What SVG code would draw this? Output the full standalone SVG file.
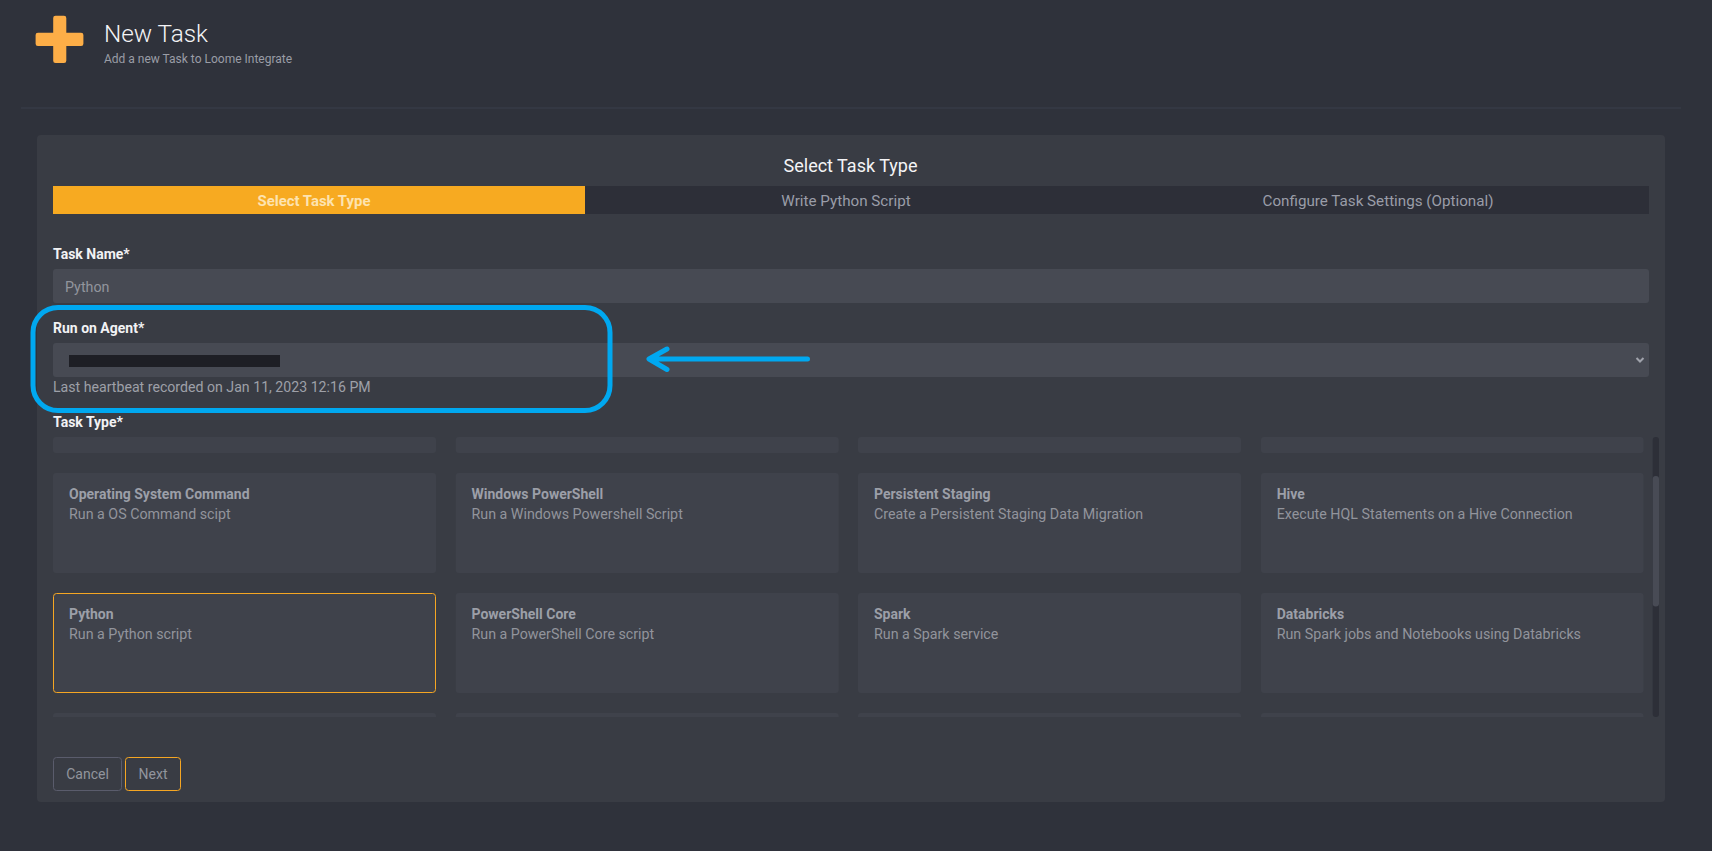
<svg xmlns="http://www.w3.org/2000/svg" width="1712" height="851" viewBox="0 0 1712 851">
<style>
text{font-family:Roboto,"Liberation Sans",sans-serif;font-size:14px}
.card{fill:#3f424b}
.ct{font-weight:700;fill:#9c9fa8}
.cd{fill:#92949c;font-size:14.250px}
.lbl{font-weight:700;fill:#f2f2f4}
.field{fill:#474a53}
.step{fill:#9a9da8;text-anchor:middle;font-size:15.200px}
.blue{fill:none;stroke:#00a8f0;stroke-linecap:round;stroke-linejoin:round}
</style>
<rect width="1712" height="851" fill="#2f323b"/>
<g id="header">
<path d="M55.500 15.700h8.500a2.300 2.300 0 0 1 2.300 2.300v14.700h14.800a2.300 2.300 0 0 1 2.300 2.300v8.700a2.300 2.300 0 0 1-2.300 2.300h-14.800v14.700a2.300 2.300 0 0 1-2.300 2.300h-8.500a2.300 2.300 0 0 1-2.300-2.300v-14.700h-15.300a2.300 2.300 0 0 1-2.300-2.300v-8.700a2.300 2.300 0 0 1 2.300-2.300h15.300v-14.700a2.300 2.300 0 0 1 2.300-2.300z" fill="#fdae47"/>
<text x="104" y="42" font-weight="300" fill="#f4f4f6" style="font-size:24.300px">New Task</text>
<text x="104" y="63" fill="#9a9da6" style="font-size:12px">Add a new Task to Loome Integrate</text>
<rect x="21" y="107.500" width="1660" height="1" fill="#3b3e4c"/>
</g>
<g id="panel">
<rect x="37" y="135" width="1628" height="667" rx="4" fill="#393c44"/>
<text x="850.500" y="171.500" text-anchor="middle" fill="#f4f4f6" style="font-size:18px">Select Task Type</text>
</g>
<g id="steps">
<rect x="53" y="186" width="1596" height="28" fill="#2d2f38"/>
<rect x="53" y="186" width="532" height="28" fill="#f7aa21"/>
<text x="314" y="206" text-anchor="middle" font-weight="700" fill="#fde3b0" style="font-size:14.900px">Select Task Type</text>
<text x="846" y="206" class="step">Write Python Script</text>
<text x="1378" y="206" class="step">Configure Task Settings (Optional)</text>
</g>
<g id="task-name">
<text x="53" y="258.500" class="lbl">Task Name*</text>
<rect x="53" y="269" width="1596" height="34" rx="3" class="field"/>
<text x="65" y="292" fill="#92959d" style="font-size:14.300px">Python</text>
</g>
<g id="run-on-agent">
<text x="53" y="332.500" class="lbl">Run on Agent*</text>
<rect x="53" y="343" width="1596" height="34" rx="3" class="field"/>
<rect x="69" y="355" width="211" height="12" fill="#1e1f25"/>
<path d="M1636.500 358l3.500 3.500 3.500-3.500" fill="none" stroke="#a0a3ac" stroke-width="2"/>
<text x="53" y="391.500" fill="#9ea0a8" style="font-size:14.150px">Last heartbeat recorded on Jan 11, 2023 12:16 PM</text>
</g>
<g id="task-type">
<text x="53" y="426.500" class="lbl">Task Type*</text>
<rect x="53" y="437" width="383" height="16" rx="3" class="card"/>
<rect x="455.700" y="437" width="383" height="16" rx="3" class="card"/>
<rect x="858" y="437" width="383" height="16" rx="3" class="card"/>
<rect x="1261" y="437" width="382.500" height="16" rx="3" class="card"/>
</g>
<g id="card-os">
<rect x="53" y="473" width="383" height="100" rx="3" class="card"/>
<text x="69" y="498.500" class="ct">Operating System Command</text>
<text x="69" y="518.500" class="cd">Run a OS Command scipt</text>
</g>
<g id="card-powershell">
<rect x="455.700" y="473" width="383" height="100" rx="3" class="card"/>
<text x="471.500" y="498.500" class="ct">Windows PowerShell</text>
<text x="471.500" y="518.500" class="cd">Run a Windows Powershell Script</text>
</g>
<g id="card-staging">
<rect x="858" y="473" width="383" height="100" rx="3" class="card"/>
<text x="874" y="498.500" class="ct">Persistent Staging</text>
<text x="874" y="518.500" class="cd">Create a Persistent Staging Data Migration</text>
</g>
<g id="card-hive">
<rect x="1261" y="473" width="382.500" height="100" rx="3" class="card"/>
<text x="1276.700" y="498.500" class="ct">Hive</text>
<text x="1276.700" y="518.500" class="cd">Execute HQL Statements on a Hive Connection</text>
</g>
<g id="card-python">
<rect x="53.500" y="593.500" width="382" height="99" rx="3" class="card" stroke="#f5a623" stroke-width="1"/>
<text x="69" y="618.500" class="ct">Python</text>
<text x="69" y="638.500" class="cd">Run a Python script</text>
</g>
<g id="card-pscore">
<rect x="455.700" y="593" width="383" height="100" rx="3" class="card"/>
<text x="471.500" y="618.500" class="ct">PowerShell Core</text>
<text x="471.500" y="638.500" class="cd">Run a PowerShell Core script</text>
</g>
<g id="card-spark">
<rect x="858" y="593" width="383" height="100" rx="3" class="card"/>
<text x="874" y="618.500" class="ct">Spark</text>
<text x="874" y="638.500" class="cd">Run a Spark service</text>
</g>
<g id="card-databricks">
<rect x="1261" y="593" width="382.500" height="100" rx="3" class="card"/>
<text x="1276.700" y="618.500" class="ct">Databricks</text>
<text x="1276.700" y="638.500" class="cd">Run Spark jobs and Notebooks using Databricks</text>
</g>
<g id="row-cut">
<path d="M53 717v-1a3 3 0 0 1 3-3h377a3 3 0 0 1 3 3v1zM455.700 717v-1a3 3 0 0 1 3-3h377a3 3 0 0 1 3 3v1zM858 717v-1a3 3 0 0 1 3-3h377a3 3 0 0 1 3 3v1zM1261 717v-1a3 3 0 0 1 3-3h376.500a3 3 0 0 1 3 3v1z" class="card"/>
</g>
<g id="scrollbar">
<rect x="1652.700" y="437" width="6.300" height="280" rx="3" fill="#2d2f38"/>
<rect x="1652.700" y="476" width="6.300" height="130.500" rx="3" fill="#484b55"/>
</g>
<g id="button-cancel">
<rect x="53.500" y="757.500" width="68" height="33" rx="3" fill="none" stroke="#5a5c6c"/>
<text x="87.500" y="779" text-anchor="middle" fill="#92959d">Cancel</text>
</g>
<g id="button-next">
<rect x="125.500" y="757.500" width="55" height="33" rx="3" fill="none" stroke="#f5a623"/>
<text x="153" y="779" text-anchor="middle" fill="#92959d">Next</text>
</g>
<g id="connectors">
<rect x="33" y="307.500" width="577" height="103" rx="25" class="blue" stroke-width="5"/>
<path d="M807.500 359H650M667 349L649 359L667 369.500" class="blue" stroke-width="5"/>
</g>
</svg>
